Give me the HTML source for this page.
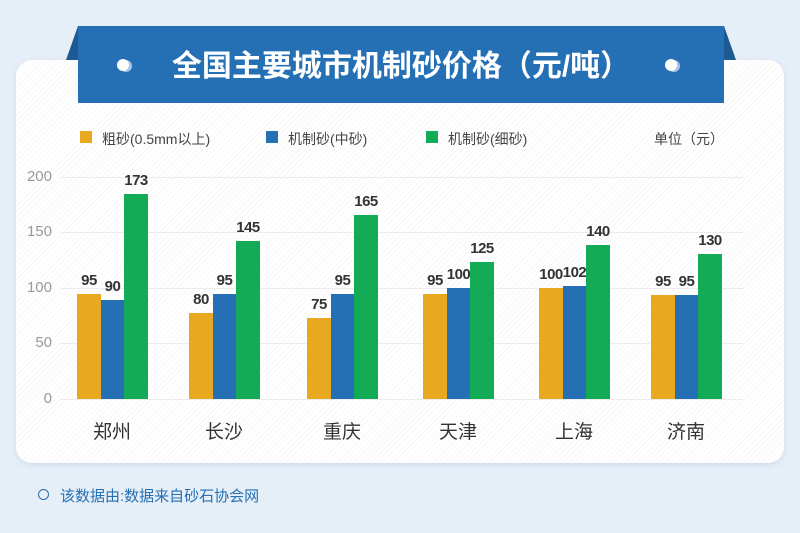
<!DOCTYPE html><html><head><meta charset="utf-8"><style>
body{margin:0;width:800px;height:533px;background:#e6eef7;position:relative;overflow:hidden;font-family:"Liberation Sans","Noto Sans CJK SC",sans-serif}
.a{position:absolute}
.card{left:16px;top:60px;width:768px;height:403px;border-radius:16px;background:repeating-linear-gradient(135deg,#fff 0 3px,#f7f7f7 3px 4px);box-shadow:0 2px 6px rgba(120,150,190,.2)}
.ban{left:78px;top:26px;width:646px;height:77px;background:#2570b5;color:#fff;font-weight:bold;font-size:30px;text-align:center;line-height:82px}
.dot{width:12px;height:12px;border-radius:50%;background:#fff;box-shadow:3px 1px 0 #a8c4e6}
.lg{top:129px;font-size:14px;color:#444}
.sq{width:12px;height:12px;top:131px}
.g{left:60px;width:683px;height:1px;background:#ececec}
.yl{width:30px;left:22px;text-align:right;font-size:15px;color:#999}
.v{font-size:15px;font-weight:bold;color:#333;text-align:center;width:40px;letter-spacing:-0.5px}
.c{font-size:19px;color:#333;top:417px;width:80px;text-align:center}
</style></head><body>
<svg class="a" style="left:66px;top:26px" width="670" height="36"><polygon points="12,0 0,34 12,34" fill="#1d5a93"/><polygon points="658,0 670,34 658,34" fill="#1d5a93"/></svg>
<div class="a card"></div>
<div class="a ban">全国主要城市机制砂价格（元/吨）</div>
<div class="a dot" style="left:117px;top:59px"></div>
<div class="a dot" style="left:665px;top:59px"></div>
<div class="a sq" style="left:80px;background:#e8a820"></div><div class="a lg" style="left:102px">粗砂(0.5mm以上)</div>
<div class="a sq" style="left:266px;background:#2570b5"></div><div class="a lg" style="left:288px">机制砂(中砂)</div>
<div class="a sq" style="left:426px;background:#13ab55"></div><div class="a lg" style="left:448px">机制砂(细砂)</div>
<div class="a lg" style="left:654px">单位（元）</div>
<div class="a g" style="top:177px"></div><div class="a g" style="top:232px"></div><div class="a g" style="top:288px"></div><div class="a g" style="top:343px"></div><div class="a g" style="top:399px"></div>
<div class="a yl" style="top:168px">200</div><div class="a yl" style="top:223px">150</div><div class="a yl" style="top:279px">100</div><div class="a yl" style="top:334px">50</div><div class="a yl" style="top:390px">0</div>
<div id="bars"></div>
<div class="a c" style="left:72px">郑州</div><div class="a c" style="left:184px">长沙</div><div class="a c" style="left:302px">重庆</div><div class="a c" style="left:418px">天津</div><div class="a c" style="left:534px">上海</div><div class="a c" style="left:646px">济南</div>
<div class="a" style="left:38px;top:489px;width:9px;height:9px;border:1.5px solid #2570b5;border-radius:50%"></div>
<div class="a" style="left:60px;top:485px;font-size:15px;color:#2570b5">该数据由:数据来自砂石协会网</div>
<script>
var d=[[77,294,300,194,95,90,173],[189,313,294,241,80,95,145],[307,318,294,215,75,95,165],[423,294,288,262,95,100,125],[539,288,286,245,100,102,140],[651,295,295,254,95,95,130]];
var col=["#e8a820","#2570b5","#13ab55"],h="";
d.forEach(function(r){for(var i=0;i<3;i++){var x=r[0]+i*23.5,t=r[1+i];h+='<div class="a" style="left:'+x+'px;top:'+t+'px;width:24px;height:'+(399-t)+'px;background:'+col[i]+'"></div><div class="a v" style="left:'+(x-8)+'px;top:'+(t-22)+'px">'+r[4+i]+'</div>';}});
document.getElementById("bars").innerHTML=h;
</script>
</body></html>
